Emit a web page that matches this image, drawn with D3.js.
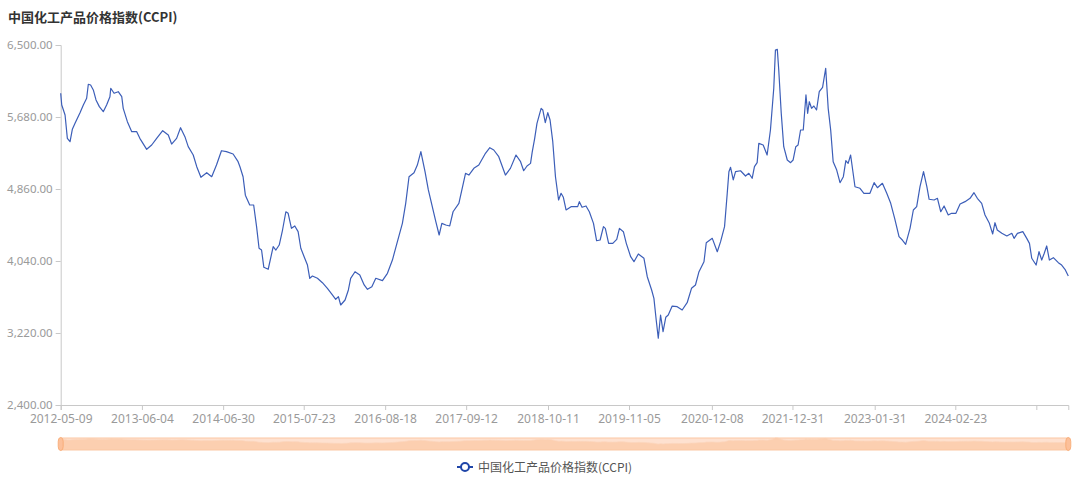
<!DOCTYPE html>
<html><head><meta charset="utf-8">
<script src="https://cdn.jsdelivr.net/npm/d3@7"></script>
<style>
html,body{margin:0;padding:0;background:#fff;}
svg{display:block;}
</style></head>
<body><svg id="c" width="1080" height="482"></svg>
<script>
const title = "中国化工产品价格指数(CCPI)";
const seriesName = "中国化工产品价格指数(CCPI)";
const yTicks = [2400, 3220, 4040, 4860, 5680, 6500];
const xTickDates = ["2012-05-09","2013-06-04","2014-06-30","2015-07-23","2016-08-18","2017-09-12","2018-10-11","2019-11-05","2020-12-08","2021-12-31","2023-01-31","2024-02-23","2025-03-19"];
const xTickLabels = ["2012-05-09","2013-06-04","2014-06-30","2015-07-23","2016-08-18","2017-09-12","2018-10-11","2019-11-05","2020-12-08","2021-12-31","2023-01-31","2024-02-23",""];
const dates = [
"2012-05-09","2012-05-14","2012-05-30","2012-06-10","2012-06-23","2012-07-04","2012-07-17","2012-08-10","2012-08-26","2012-09-11","2012-09-19","2012-09-30","2012-10-13","2012-10-26","2012-11-11","2012-11-30","2012-12-16","2013-01-01","2013-01-05","2013-01-21","2013-02-10","2013-02-27","2013-03-06","2013-03-26","2013-04-16","2013-05-10","2013-05-25",
"2013-06-27","2013-07-21","2013-08-14","2013-09-12","2013-10-09","2013-10-25","2013-11-18","2013-12-07","2013-12-28","2014-01-13","2014-02-06","2014-02-23","2014-03-15","2014-04-12","2014-05-06","2014-05-29","2014-06-22",
"2014-07-16","2014-08-17","2014-09-10","2014-09-19","2014-10-04","2014-10-15","2014-11-05","2014-11-24","2014-12-08","2014-12-20","2015-01-01","2015-01-12","2015-02-02","2015-02-26","2015-03-11","2015-03-27","2015-04-12","2015-04-28","2015-05-09","2015-05-25","2015-06-10","2015-06-26","2015-07-09",
"2015-07-25","2015-08-10","2015-08-21","2015-09-03","2015-09-27","2015-10-21","2015-11-14","2015-12-08","2015-12-24","2016-01-06","2016-01-17","2016-02-07","2016-02-23","2016-03-05","2016-03-26","2016-04-18","2016-05-09","2016-05-25","2016-06-15","2016-07-04","2016-08-05",
"2016-08-29","2016-09-22","2016-10-16","2016-11-09","2016-11-25","2016-12-11","2017-01-04","2017-01-20","2017-02-06","2017-02-26","2017-03-14","2017-03-31","2017-04-19","2017-05-05","2017-05-18","2017-06-06","2017-06-25","2017-07-11","2017-08-08","2017-09-09",
"2017-09-25","2017-10-19","2017-11-12","2017-12-14","2018-01-04","2018-01-23","2018-02-16","2018-03-20","2018-04-13","2018-05-10","2018-06-01","2018-06-16","2018-07-02","2018-07-19","2018-07-27","2018-08-08","2018-08-19","2018-09-08","2018-09-16","2018-09-28","2018-10-10",
"2018-10-21","2018-11-03","2018-11-16","2018-12-01","2018-12-13","2018-12-24","2019-01-06","2019-01-30","2019-03-03","2019-03-11","2019-03-24","2019-04-12","2019-04-28","2019-05-18","2019-06-02","2019-06-19","2019-07-05","2019-07-14","2019-07-30","2019-08-19","2019-09-07","2019-09-20","2019-10-09","2019-10-23",
"2019-11-13","2019-11-29","2019-12-20","2020-01-16","2020-02-01","2020-02-22","2020-03-04","2020-03-15","2020-03-25","2020-04-05","2020-04-17","2020-04-30","2020-05-12","2020-05-31","2020-06-24","2020-07-18","2020-08-11","2020-09-01","2020-09-20","2020-10-07","2020-10-31","2020-11-11",
"2020-12-10","2021-01-03","2021-01-19","2021-02-07","2021-02-20","2021-02-28","2021-03-08","2021-03-21","2021-04-01","2021-04-25","2021-05-19","2021-06-04","2021-06-20","2021-07-01","2021-07-14","2021-07-22","2021-08-12","2021-08-31","2021-09-16","2021-10-02","2021-10-10","2021-10-19","2021-10-26","2021-11-07","2021-11-19","2021-12-06","2021-12-22",
"2022-01-03","2022-01-16","2022-01-27","2022-02-08","2022-02-21","2022-03-06","2022-03-14","2022-03-22","2022-04-02","2022-04-13","2022-04-26","2022-05-09","2022-05-25","2022-06-09","2022-06-21","2022-07-03","2022-07-15","2022-08-01","2022-08-17","2022-09-02","2022-09-14","2022-09-25","2022-10-07","2022-10-28","2022-11-21","2022-12-10","2023-01-08",
"2023-01-28","2023-02-13","2023-03-09","2023-03-30","2023-04-18","2023-05-07","2023-05-28","2023-06-13","2023-06-29","2023-07-20","2023-08-05","2023-08-21","2023-09-06","2023-09-23","2023-10-09","2023-10-20","2023-11-13","2023-11-29","2023-12-15","2023-12-31","2024-01-20","2024-02-05",
"2024-02-26","2024-03-17","2024-04-10","2024-05-04","2024-05-23","2024-06-08","2024-06-29","2024-07-15","2024-08-05","2024-08-21","2024-09-01","2024-09-12","2024-10-04","2024-10-28","2024-11-21","2024-12-02","2024-12-18","2025-01-13","2025-02-01","2025-02-14","2025-02-25","2025-03-18","2025-04-01","2025-04-14","2025-04-25","2025-05-08","2025-05-21","2025-06-09","2025-07-03","2025-07-19","2025-08-04","2025-08-20"
];
const values = [
5950,5817,5703,5437,5399,5540,5608,5729,5817,5893,6053,6045,5988,5874,5798,5740,5817,5911,6007,5950,5968,5911,5779,5627,5513,5513,5437,
5312,5361,5437,5524,5475,5372,5437,5558,5456,5342,5247,5114,4993,5046,5000,5133,5296,
5285,5259,5171,5114,5000,4790,4678,4678,4431,4185,4165,3968,3946,4203,4165,4222,4393,4601,4583,4412,4439,4374,4185,
4089,3994,3843,3869,3843,3793,3729,3653,3604,3634,3539,3596,3710,3843,3918,3881,3767,3718,3748,3843,3816,
3900,4051,4260,4469,4697,5000,5046,5133,5285,5057,4849,4678,4488,4336,4469,4450,4439,4601,4697,5039,
5019,5095,5133,5267,5330,5304,5228,5019,5095,5247,5171,5068,5122,5152,5280,5437,5608,5779,5760,5615,5729,
5646,5399,5000,4735,4811,4766,4621,4659,4659,4716,4652,4667,4601,4469,4271,4279,4431,4412,4241,4241,4287,4412,4374,4241,
4089,4032,4120,4071,3861,3710,3615,3368,3160,3425,3235,3399,3425,3527,3520,3482,3565,3729,3767,3918,4032,4248,
4298,4146,4260,4431,4811,5057,5107,4963,5057,5068,5008,5039,4982,5114,5160,5380,5361,5247,5532,6007,6443,6451,6215,5722,5342,5190,5160,
5190,5342,5361,5532,5532,5931,5722,5854,5779,5805,5760,5968,6018,6235,5779,5532,5171,5076,4932,5000,5183,5152,5247,4886,4868,4811,4811,
4932,4875,4925,4811,4697,4526,4317,4279,4230,4412,4621,4659,4886,5057,4886,4743,4735,4754,4601,4667,4564,4583,
4583,4689,4716,4754,4818,4754,4697,4564,4469,4348,4476,4393,4355,4325,4355,4298,4355,4374,4298,4241,4071,3994,4146,4051,4120,4211,4051,4078,4021,3994,3946,3869
];

(function draw() {
const parse = d3.timeParse("%Y-%m-%d");
const data = dates.map((d, i) => ({ date: parse(d), value: values[i] }));

const svg = d3.select("#c");
const pLeft = 60.7, pRight = 1068.3, pTop = 45, pBottom = 405;
const lineColor = "#3c5eb8";
const labelFont = "'Noto Sans', 'Liberation Sans', sans-serif";

const x = d3.scaleTime().domain([data[0].date, data[data.length - 1].date]).range([pLeft, pRight]);
const y = d3.scaleLinear().domain([yTicks[0], yTicks[yTicks.length - 1]]).range([pBottom, pTop]);

svg.append("text").attr("x", 8).attr("y", 22)
  .attr("font-family", "'Noto Sans CJK SC', sans-serif").attr("font-weight", "bold")
  .attr("font-size", 13).attr("fill", "#333").text(title);

const yAxis = d3.axisLeft(y).tickValues(yTicks).tickFormat(d3.format(",.2f")).tickSizeOuter(0).tickSize(5).tickPadding(3);
const gy = svg.append("g").attr("transform", `translate(${pLeft},0)`).call(yAxis);
gy.select(".domain").attr("stroke", "#c8c8c8");
gy.selectAll(".tick line").attr("stroke", "#c8c8c8");
gy.selectAll(".tick text").attr("fill", "#9a9a9a").attr("font-size", 11.5).attr("font-family", labelFont);

const tickDates = xTickDates.map(parse);
const xAxis = d3.axisBottom(x).tickValues(tickDates)
  .tickFormat((d, i) => xTickLabels[i]).tickSizeOuter(0).tickSize(5).tickPadding(4);
const gx = svg.append("g").attr("transform", `translate(0,${pBottom})`).call(xAxis);
gx.select(".domain").attr("stroke", "#c8c8c8");
gx.selectAll(".tick line").attr("stroke", "#c8c8c8");
gx.selectAll(".tick text").attr("fill", "#9a9a9a").attr("font-size", 12).attr("font-family", labelFont);

const line = d3.line().x(d => x(d.date)).y(d => y(d.value)).curve(d3.curveLinear);
svg.append("path").datum(data).attr("d", line)
  .attr("fill", "none").attr("stroke", lineColor).attr("stroke-width", 1.2)
  .attr("stroke-linejoin", "round");

const sTop = 438, sBot = 450;
const sy = d3.scaleLinear().domain([0, d3.max(values)]).range([sBot, sTop]);
svg.append("rect").attr("x", pLeft).attr("y", sTop).attr("width", pRight - pLeft).attr("height", sBot - sTop)
  .attr("fill", "#ffeadd");
const area = d3.area().x(d => x(d.date)).y0(sBot).y1(d => sy(d.value));
svg.append("path").datum(data).attr("d", area).attr("fill", "#fdd3b6");
svg.append("path").datum(data).attr("d", d3.line().x(d => x(d.date)).y(d => sy(d.value)))
  .attr("fill", "none").attr("stroke", "#fcdcc6").attr("stroke-width", 0.8);
svg.append("rect").attr("x", pLeft).attr("y", sTop).attr("width", pRight - pLeft).attr("height", sBot - sTop)
  .attr("fill", "rgba(252,190,150,0.18)").attr("stroke", "#fbc7a3").attr("stroke-width", 1);
[pLeft, pRight].forEach(hx => {
  svg.append("rect").attr("x", hx - 2.5).attr("y", sTop - 0.5).attr("width", 5).attr("height", sBot - sTop + 1)
    .attr("rx", 2.5).attr("ry", 4).attr("fill", "#fcc09a").attr("stroke", "#f8a870").attr("stroke-width", 0.8);
});

const lg = svg.append("g");
lg.append("line").attr("x1", 457).attr("x2", 473).attr("y1", 467).attr("y2", 467)
  .attr("stroke", "#1f45a8").attr("stroke-width", 2);
lg.append("circle").attr("cx", 465).attr("cy", 467).attr("r", 4)
  .attr("fill", "#fff").attr("stroke", "#1f45a8").attr("stroke-width", 2);
lg.append("text").attr("x", 478).attr("y", 471.5)
  .attr("font-family", "'Noto Sans CJK SC', sans-serif").attr("font-size", 12)
  .attr("fill", "#555").text(seriesName);
})();
</script></body></html>
